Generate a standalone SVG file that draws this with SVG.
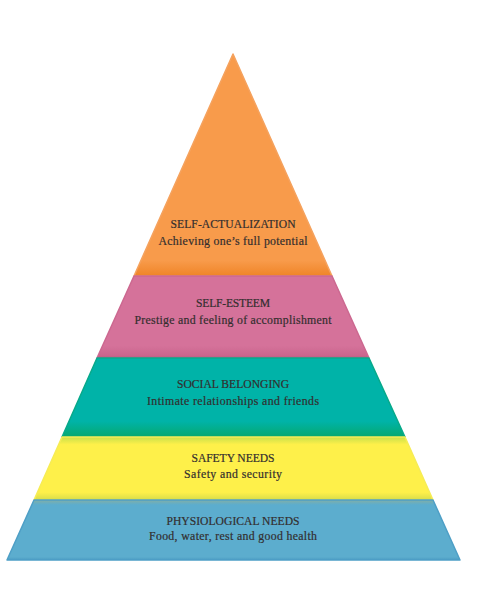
<svg xmlns="http://www.w3.org/2000/svg" width="496" height="596" viewBox="0 0 496 596">
<defs>
<style>
.t{font-family:"Liberation Serif","DejaVu Serif",serif;fill:#332e2e;stroke:#332e2e;stroke-width:0.2;text-anchor:middle;font-size:11.8px}
.h{font-size:11.6px}
</style>
<linearGradient id="gO" x1="0" y1="0" x2="0" y2="1"><stop offset="0.93" stop-color="#F89B4B"/><stop offset="1" stop-color="#EF8427"/></linearGradient>
<linearGradient id="gP" x1="0" y1="0" x2="0" y2="1"><stop offset="0.85" stop-color="#D5729A"/><stop offset="0.98" stop-color="#C9648C"/><stop offset="1" stop-color="#6A5A66"/></linearGradient>
<linearGradient id="gT" x1="0" y1="0" x2="0" y2="1"><stop offset="0.8" stop-color="#00B3A8"/><stop offset="1" stop-color="#05A86F"/></linearGradient>
<linearGradient id="gY" x1="0" y1="0" x2="0" y2="1"><stop offset="0" stop-color="#C9E04A"/><stop offset="0.12" stop-color="#FEF04A"/><stop offset="0.88" stop-color="#FEF04A"/><stop offset="1" stop-color="#D7DC4A"/></linearGradient>
<linearGradient id="gB" x1="0" y1="0" x2="0" y2="1"><stop offset="0" stop-color="#82AFA6"/><stop offset="0.08" stop-color="#5CADCE"/><stop offset="0.95" stop-color="#5CADCE"/><stop offset="1" stop-color="#4B9CC3"/></linearGradient>
</defs>
<g id="self-actualization">
<polygon points="233,54 332,276 134,276" fill="url(#gO)" stroke="#F5A25E" stroke-width="1.5" stroke-linejoin="round"/>
<text class="t h" x="233" y="228" textLength="125">SELF-ACTUALIZATION</text>
<text class="t" x="233" y="245" textLength="149">Achieving one’s full potential</text>
</g>
<g id="self-esteem">
<polygon points="134,276 332,276 369,358 97,358" fill="url(#gP)" stroke="#CC6890" stroke-width="1.5" stroke-linejoin="round"/>
<text class="t h" x="233" y="307" textLength="74">SELF-ESTEEM</text>
<text class="t" x="233" y="324" textLength="197">Prestige and feeling of accomplishment</text>
</g>
<g id="social-belonging">
<polygon points="97,358 369,358 405,437 62,437" fill="url(#gT)" stroke="#07A98A" stroke-width="1.5" stroke-linejoin="round"/>
<text class="t h" x="233" y="388" textLength="112">SOCIAL BELONGING</text>
<text class="t" x="233" y="405" textLength="172">Intimate relationships and friends</text>
</g>
<g id="safety-needs">
<polygon points="62,437 405,437 433,500 34,500" fill="url(#gY)" stroke="#F6EC55" stroke-width="1.5" stroke-linejoin="round"/>
<text class="t h" x="233" y="462" textLength="83">SAFETY NEEDS</text>
<text class="t" x="233" y="478" textLength="98">Safety and security</text>
</g>
<g id="physiological-needs">
<polygon points="34,500 433,500 460,560 7,560" fill="url(#gB)" stroke="#4E9FC6" stroke-width="1.5" stroke-linejoin="round"/>
<text class="t h" x="233" y="525" textLength="133">PHYSIOLOGICAL NEEDS</text>
<text class="t" x="233" y="540" textLength="168">Food, water, rest and good health</text>
</g>
<g id="connectors"/>
</svg>
